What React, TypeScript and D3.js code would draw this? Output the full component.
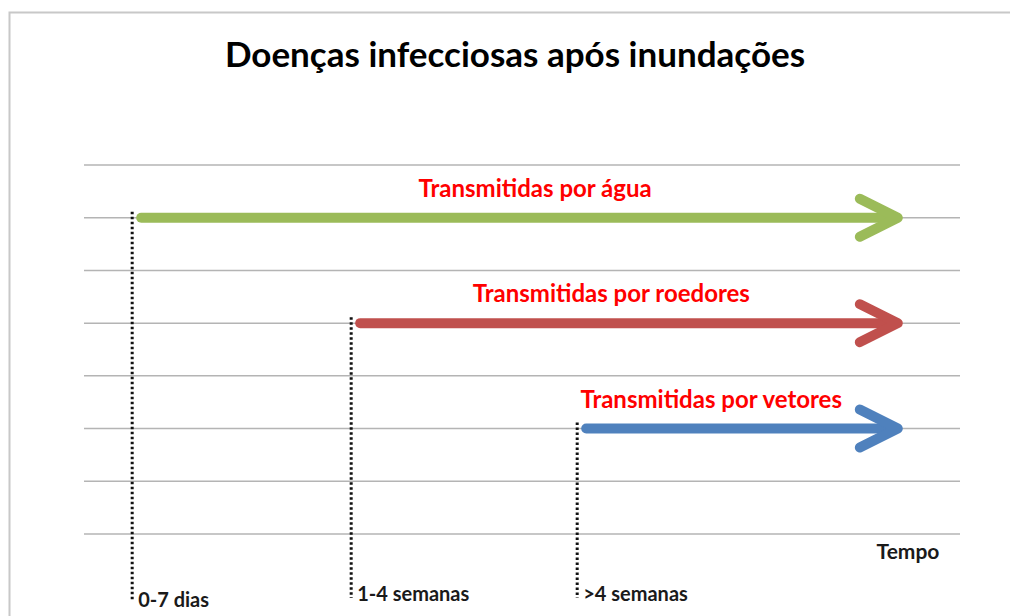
import * as d3 from 'd3';
import React, { useEffect, useRef } from 'react';

// Phases of the timeline (bottom labels) and where each one starts on the time axis (0-100)
const periods = ['0-7 dias', '1-4 semanas', '>4 semanas'];
const periodStart = [5.5, 30.5, 56.3];

// One arrow per transmission route, each starting at its phase
const routes = ['Transmitidas por água', 'Transmitidas por roedores', 'Transmitidas por vetores'];
const routeRow = [1, 3, 5];
const routeLabelCenter = [51.5, 60.2, 71.6];
const arrowEnd = 92.9;

// Horizontal grid rows
const gridRows = [0, 1, 2, 3, 4, 5, 6, 7];

const routeColors = ['#9BBB59', '#C0504D', '#4F81BD'];
const FONT = 'Lato, "Open Sans", sans-serif';

const App: React.FC = () => {
  const svgRef = useRef<SVGSVGElement>(null);
  const width = 1010;
  const height = 616;

  useEffect(() => {
    if (!svgRef.current) return;
    const svg = d3.select(svgRef.current);
    svg.selectAll('*').remove();

    const x = d3.scaleLinear().domain([0, 100]).range([84, 960]);
    const y = d3.scaleLinear().domain([0, 7]).range([165, 534]);

    // chart frame
    svg.append('rect')
      .attr('x', 9.5)
      .attr('y', 12.5)
      .attr('width', width)
      .attr('height', height)
      .attr('fill', 'white')
      .attr('stroke', '#c8c8c8')
      .attr('stroke-width', 2);

    svg.append('text')
      .attr('x', 515)
      .attr('y', 67)
      .attr('text-anchor', 'middle')
      .style('font-family', FONT)
      .style('font-size', '35px')
      .style('font-weight', 'bold')
      .attr('fill', '#000')
      .text('Doenças infecciosas após inundações');

    // grid lines
    svg.append('g')
      .selectAll('line')
      .data(gridRows)
      .join('line')
      .attr('x1', x(0))
      .attr('x2', x(100))
      .attr('y1', d => y(d))
      .attr('y2', d => y(d))
      .attr('stroke', '#b4b4b4')
      .attr('stroke-width', 1.5);

    const routeData = routes.map((name, i) => ({
      name,
      row: routeRow[i],
      start: periodStart[i],
      center: routeLabelCenter[i],
      color: routeColors[i],
    }));

    // arrow shafts
    svg.append('g')
      .selectAll('line')
      .data(routeData)
      .join('line')
      .attr('x1', d => x(d.start) + 9)
      .attr('x2', x(arrowEnd) - 4)
      .attr('y1', d => y(d.row))
      .attr('y2', d => y(d.row))
      .attr('stroke', d => d.color)
      .attr('stroke-width', 10)
      .attr('stroke-linecap', 'round');

    // arrow heads (chevrons)
    svg.append('g')
      .selectAll('path')
      .data(routeData)
      .join('path')
      .attr('d', d => {
        const tx = x(arrowEnd);
        const ty = y(d.row);
        return `M${tx - 38},${ty - 19}L${tx},${ty}L${tx - 38},${ty + 19}`;
      })
      .attr('fill', 'none')
      .attr('stroke', d => d.color)
      .attr('stroke-width', 10)
      .attr('stroke-linecap', 'round')
      .attr('stroke-linejoin', 'round');

    // route labels
    svg.append('g')
      .selectAll('text')
      .data(routeData)
      .join('text')
      .attr('x', d => x(d.center))
      .attr('y', d => y(d.row) - 21)
      .attr('text-anchor', 'middle')
      .style('font-family', FONT)
      .style('font-size', '24px')
      .style('font-weight', 'bold')
      .attr('fill', '#FF0000')
      .text(d => d.name);

    // dotted phase markers
    const periodData = periods.map((name, i) => ({ name, start: periodStart[i], row: routeRow[i] }));
    svg.append('g')
      .selectAll('line')
      .data(periodData)
      .join('line')
      .attr('x1', d => x(d.start))
      .attr('x2', d => x(d.start))
      .attr('y1', d => y(d.row) - 6)
      .attr('y2', (d, i) => (i === 0 ? 601 : 598))
      .attr('stroke', '#111')
      .attr('stroke-width', 3)
      .attr('stroke-dasharray', '2.5,2.5');

    svg.append('g')
      .selectAll('text')
      .data(periodData)
      .join('text')
      .attr('x', d => x(d.start) + 6)
      .attr('y', (d, i) => (i === 0 ? 607 : 601))
      .style('font-family', FONT)
      .style('font-size', '20px')
      .style('font-weight', 'bold')
      .attr('fill', '#1a1a1a')
      .text(d => d.name);

    svg.append('text')
      .attr('x', 908)
      .attr('y', 559)
      .attr('text-anchor', 'middle')
      .style('font-family', FONT)
      .style('font-size', '21px')
      .style('font-weight', 'bold')
      .attr('fill', '#1a1a1a')
      .text('Tempo');
  }, []);

  return (
    <svg
      ref={svgRef}
      width={width}
      height={height}
      style={{ position: 'fixed', left: 0, top: 0, display: 'block', background: 'white' }}
    />
  );
};

export default App;
